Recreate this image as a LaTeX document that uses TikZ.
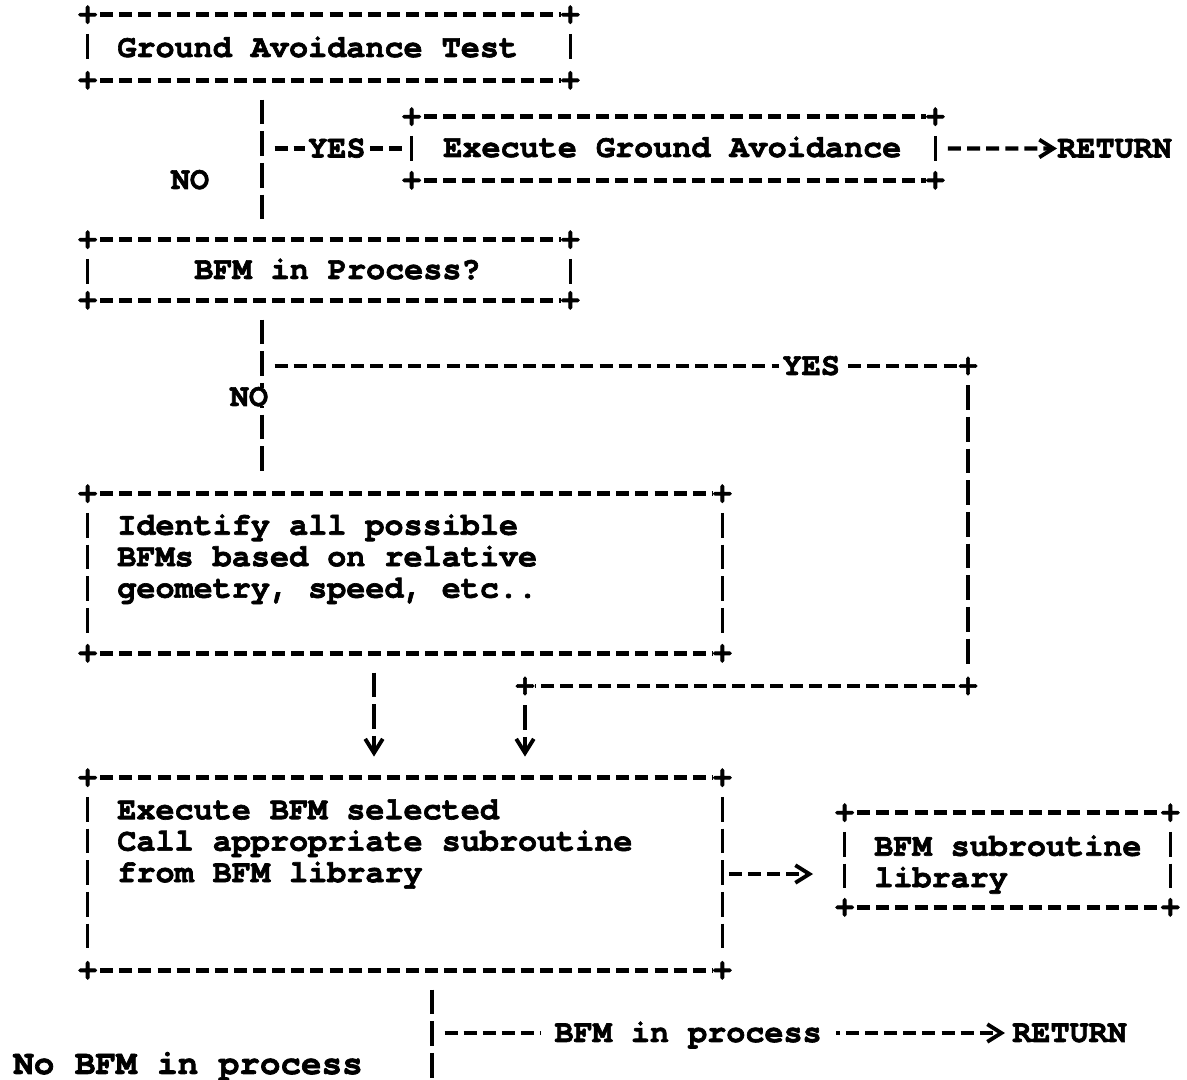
\documentclass[tikz,border=0pt]{standalone}
\usepackage{fontspec}
\newfontfamily\cursorfont{texgyrecursor-bold.otf}[FakeBold=2]
\usetikzlibrary{arrows.meta, fit}

\begin{document}
\begin{tikzpicture}[x=0.02cm, y=-0.02cm,
  txt/.style={font={\cursorfont\fontsize{18.1pt}{17.9pt}\selectfont}, inner sep=0pt, text height=10.2pt, text depth=0pt},
  txtm/.style={font={\cursorfont\fontsize{18.1pt}{17.9pt}\selectfont}, inner sep=0pt, align=left},
  plus/.style={font={\cursorfont\fontsize{18.1pt}{17.9pt}\selectfont}, inner sep=0pt},
  lbl/.style={txt, fill=white, inner xsep=2pt},
  box/.style={inner sep=0pt, draw=none},
  hline/.style={line width=2.5pt, dash pattern=on 7.4pt off 3.48pt, dash phase=9.18pt, shorten <=5.44pt, shorten >=5.44pt},
  vline/.style={line width=2pt, dash pattern=on 14.17pt off 3.86pt, dash phase=16.1pt, shorten <=9pt, shorten >=9pt},
  >={Straight Barb[length=8pt, width=10pt, line width=2.2pt]}
]
\useasboundingbox (0,0) rectangle (1187,1079);

% boxes
\node[box, fit={(88,15) (570,80)}] (gat) {};
\node[box, fit={(412,117) (935,180)}] (ega) {};
\node[box, fit={(88,240) (570,300)}] (bip) {};
\node[box, fit={(88,494) (722,653)}] (idf) {};
\node[box, fit={(88,778) (722,970)}] (exe) {};
\node[box, fit={(845,813) (1170,907)}] (lib) {};

% box texts
\node[txt, anchor=west] (gatT) at (117,48) {Ground Avoidance Test};
\node[txt, anchor=west] (egaT) at (443,148) {Execute Ground Avoidance};
\node[txt, anchor=west] (bipT) at (194,270) {BFM in Process?};
\node[txtm, anchor=north west] (idfT) at (117,514) {Identify all possible\\BFMs based on relative\\geometry, speed, etc..};
\node[txtm, anchor=north west] (exeT) at (117,799) {Execute BFM selected\\Call appropriate subroutine\\from BFM library};
\node[txtm, anchor=north west] (libT) at (874,835) {BFM subroutine\\library};

% frames: dashes, bars and corner pluses
\foreach \b in {gat,ega,bip,idf,exe,lib} {
  \draw[hline] (\b.north west) -- (\b.north east);
  \draw[hline] (\b.south west) -- (\b.south east);
  \draw[vline] (\b.north west) -- (\b.south west);
  \draw[vline] (\b.north east) -- (\b.south east);
  \foreach \c in {north west,north east,south west,south east}
    \node[plus] at (\b.\c) {+};
}

% trunk columns
\coordinate (t1) at (262,0);
\coordinate (a1) at (374,0);
\coordinate (t3) at (432,0);
\coordinate (bot) at (432,1100);

% ground avoidance test
\draw[vline] (gat.south -| t1) -- (bip.north -| t1);
\draw[hline] (t1 |- ega.west) -- (ega.west) node[lbl, midway] {YES};
\node[txt] (no1) at (190,180) {NO};
\coordinate (ret1) at (1057,148.5);
\draw[hline, ->, shorten >=0pt] (ega.east) -- (ret1);
\node[txt, anchor=west] (rt1) at (ret1) {RETURN};

% BFM in process?
\draw[vline] (bip.south -| t1) -- (idf.north -| t1);
\node[lbl] (no2) at (249,397) {NO};
\node[plus] (c1) at (968,366) {+};
\node[plus] (c2) at (968,686) {+};
\node[plus] (c3) at (525,686) {+};
\draw[hline] (t1 |- c1) -- (c1.center) node[lbl, pos=0.778] {YES};
\draw[vline] (c1.center) -- (c2.center);
\draw[hline] (c2.center) -- (c3.center);
\draw[vline, ->, shorten >=12pt] (c3.center) -- (exe.north -| c3);
\draw[vline, ->, shorten >=12pt] (idf.south -| a1) -- (exe.north -| a1);

% execute BFM
\draw[hline, ->, shorten <=2pt, shorten >=18pt] (exe.east) -- (exe.east -| lib.west);
\draw[vline, shorten >=0pt] (exe.south -| t3) -- (bot);
\coordinate (ret2) at (1005,1033);
\draw[hline, ->, shorten >=0pt] (t3 |- ret2) -- (ret2) node[lbl, pos=0.447, inner xsep=8pt] {BFM in process};
\node[txt, anchor=west] (rt2) at (1012,1033) {RETURN};
\node[txt, font={\cursorfont\fontsize{19.5pt}{19pt}\selectfont}] (nob) at (188,1065) {No BFM in process};
\end{tikzpicture}
\end{document}
